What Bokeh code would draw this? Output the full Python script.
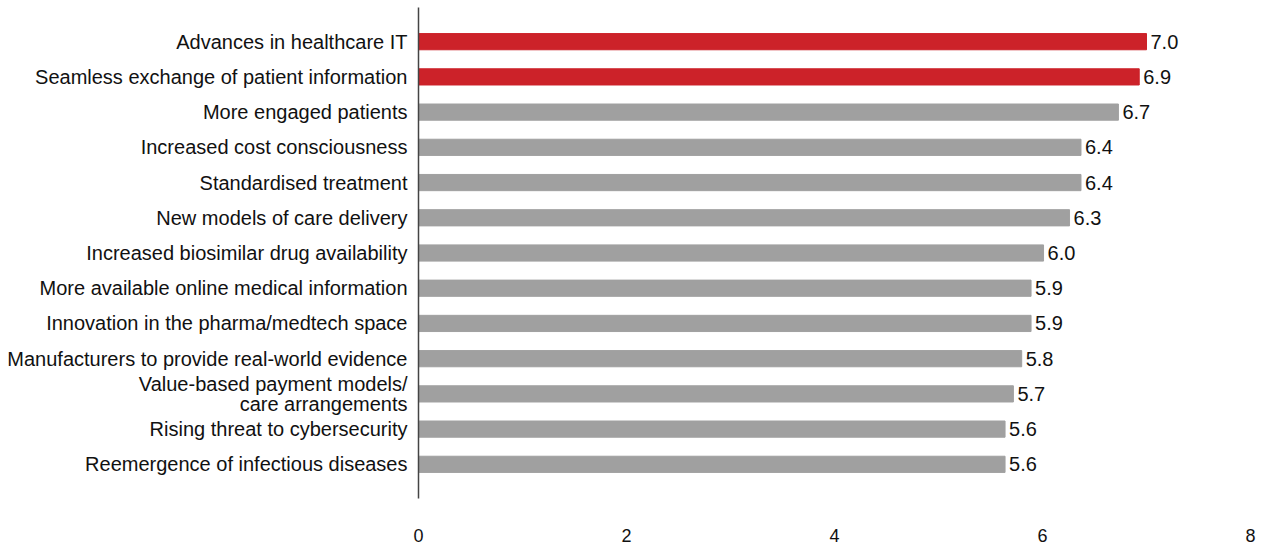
from bokeh.plotting import figure
from bokeh.models import ColumnDataSource, FactorRange, Range1d, FixedTicker, LabelSet
from bokeh.core.properties import value
from bokeh.embed import file_html
from bokeh.resources import INLINE

categories = [
    "Advances in healthcare IT",
    "Seamless exchange of patient information",
    "More engaged patients",
    "Increased cost consciousness",
    "Standardised treatment",
    "New models of care delivery",
    "Increased biosimilar drug availability",
    "More available online medical information",
    "Innovation in the pharma/medtech space",
    "Manufacturers to provide real-world evidence",
    "Value-based payment models/\ncare arrangements",
    "Rising threat to cybersecurity",
    "Reemergence of infectious diseases",
]
values = [7.0, 6.93, 6.73, 6.37, 6.37, 6.26, 6.01, 5.89, 5.89, 5.80, 5.72, 5.64, 5.64]
highlight = [True, True] + [False] * 11
x_ticks = [0, 2, 4, 6, 8]

RED = "#CC2229"
GRAY = "#A0A0A0"
colors = [RED if h else GRAY for h in highlight]

src = ColumnDataSource(dict(
    cat=categories,
    val=values,
    color=colors,
    lbl=[f"{v:.1f}" for v in values],
))

yr = FactorRange(factors=list(reversed(categories)), range_padding=0.47,
                 range_padding_units="absolute")

p = figure(width=1267, height=548, y_range=yr, x_range=Range1d(0, 8),
           output_backend="svg", toolbar_location=None,
           min_border_left=418, min_border_right=17, min_border_top=7,
           min_border_bottom=50)
p.frame_width = 832
p.frame_height = 491

p.hbar(y="cat", right="val", left=0, height=0.46, color="color", source=src)

labels = LabelSet(x="val", y="cat", text="lbl", source=src, x_offset=4,
                  text_baseline="middle", text_font=value("Liberation Sans"),
                  text_font_size="20px", text_color="#111111")
p.add_layout(labels)

p.xgrid.visible = False
p.ygrid.visible = False
p.outline_line_color = None
p.background_fill_color = "white"
p.border_fill_color = "white"

ya = p.yaxis[0]
ya.axis_line_color = "#444444"
ya.axis_line_width = 1.5
ya.major_tick_line_color = None
ya.minor_tick_line_color = None
ya.major_label_text_font = "Liberation Sans"
ya.major_label_text_font_size = "20px"
ya.major_label_text_color = "#111111"
ya.major_label_text_line_height = 0.9
ya.major_label_standoff = 5

xa = p.xaxis[0]
xa.ticker = FixedTicker(ticks=x_ticks)
xa.axis_line_color = None
xa.major_tick_line_color = None
xa.minor_tick_line_color = None
xa.major_label_text_font = "Liberation Sans"
xa.major_label_text_font_size = "18px"
xa.major_label_text_color = "#111111"
xa.major_label_standoff = 24

open("out.html", "w").write(file_html(p, INLINE))
